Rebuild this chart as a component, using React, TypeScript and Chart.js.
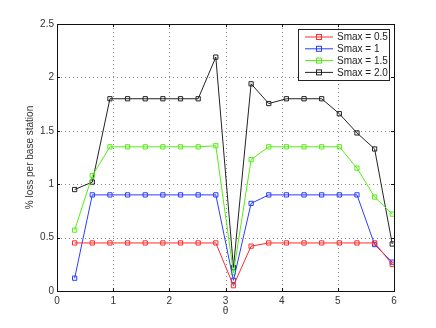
import React, { useEffect, useRef } from "react";
import { Chart, registerables } from "chart.js";

Chart.register(...registerables);

const thetaSteps = [1, 2, 3, 4, 5, 6, 7, 8, 9, 10, 11, 12, 13, 14, 15, 16, 17, 18, 19];
const thetaValues = thetaSteps.map((k) => (k * Math.PI) / 10);

const seriesLabels = ["Smax = 0.5", "Smax = 1", "Smax = 1.5", "Smax = 2.0"];
const seriesColors = ["#ff2a2a", "#2a3dff", "#55ee11", "#222222"];

const smax05 = [0.45, 0.45, 0.45, 0.45, 0.45, 0.45, 0.45, 0.45, 0.45, 0.05, 0.42, 0.45, 0.45, 0.45, 0.45, 0.45, 0.45, 0.45, 0.25];
const smax1 = [0.12, 0.9, 0.9, 0.9, 0.9, 0.9, 0.9, 0.9, 0.9, 0.1, 0.82, 0.9, 0.9, 0.9, 0.9, 0.9, 0.9, 0.435, 0.27];
const smax15 = [0.57, 1.08, 1.35, 1.35, 1.35, 1.35, 1.35, 1.35, 1.36, 0.17, 1.23, 1.35, 1.35, 1.35, 1.35, 1.35, 1.15, 0.88, 0.72];
const smax2 = [0.95, 1.02, 1.8, 1.8, 1.8, 1.8, 1.8, 1.8, 2.19, 0.22, 1.94, 1.755, 1.8, 1.8, 1.8, 1.66, 1.48, 1.33, 0.44];

const xTicks = [0, 1, 2, 3, 4, 5, 6];
const yTicks = [0, 0.5, 1, 1.5, 2, 2.5];
const xTitle = "θ";
const yTitle = "% loss per base station";

const FONT = "'Liberation Sans', Arial, Helvetica, sans-serif";

const gridPlugin = {
  id: "dottedGrid",
  beforeDatasetsDraw(chart: any) {
    const { ctx, chartArea } = chart;
    const { left, right, top, bottom } = chartArea;
    const xs = chart.scales.x;
    const ys = chart.scales.y;
    ctx.save();
    ctx.strokeStyle = "#8a8a8a";
    ctx.lineWidth = 1;
    ctx.setLineDash([1, 3]);
    ctx.beginPath();
    xTicks.slice(1, -1).forEach((v) => {
      const px = Math.round(xs.getPixelForValue(v)) + 0.5;
      ctx.moveTo(px, top);
      ctx.lineTo(px, bottom);
    });
    yTicks.slice(1, -1).forEach((v) => {
      const py = Math.round(ys.getPixelForValue(v)) + 0.5;
      ctx.moveTo(left, py);
      ctx.lineTo(right, py);
    });
    ctx.stroke();
    ctx.restore();
  },
};

const boxPlugin = {
  id: "matlabBox",
  afterDraw(chart: any) {
    const { ctx, chartArea } = chart;
    const { left, right, top, bottom } = chartArea;
    ctx.save();
    ctx.strokeStyle = "#111";
    ctx.lineWidth = 1;
    ctx.strokeRect(Math.round(left) + 0.5, Math.round(top) + 0.5, Math.round(right - left), Math.round(bottom - top));
    const xs = chart.scales.x;
    const ys = chart.scales.y;
    ctx.beginPath();
    xTicks.forEach((v) => {
      const px = Math.round(xs.getPixelForValue(v)) + 0.5;
      ctx.moveTo(px, bottom);
      ctx.lineTo(px, bottom - 3);
      ctx.moveTo(px, top);
      ctx.lineTo(px, top + 3);
    });
    yTicks.forEach((v) => {
      const py = Math.round(ys.getPixelForValue(v)) + 0.5;
      ctx.moveTo(left, py);
      ctx.lineTo(left + 3, py);
      ctx.moveTo(right, py);
      ctx.lineTo(right - 3, py);
    });
    ctx.stroke();

    // axis titles
    ctx.fillStyle = "#333";
    ctx.font = `10px ${FONT}`;
    ctx.textAlign = "center";
    ctx.textBaseline = "middle";
    ctx.fillText(xTitle, (left + right) / 2, 311);
    ctx.save();
    ctx.translate(30, (top + bottom) / 2);
    ctx.rotate(-Math.PI / 2);
    ctx.fillText(yTitle, 0, 0);
    ctx.restore();

    // legend
    const bx = 298.5, by = 29.5, bw = 91, bh = 51;
    ctx.fillStyle = "#fff";
    ctx.fillRect(bx, by, bw, bh);
    ctx.strokeStyle = "#222";
    ctx.strokeRect(bx, by, bw, bh);
    ctx.font = `10px ${FONT}`;
    ctx.textBaseline = "middle";
    ctx.textAlign = "left";
    seriesLabels.forEach((lab, i) => {
      const cy = 37 + i * 11.8;
      ctx.strokeStyle = seriesColors[i];
      ctx.lineWidth = 1;
      ctx.beginPath();
      ctx.moveTo(305, cy);
      ctx.lineTo(333, cy);
      ctx.stroke();
      ctx.strokeRect(316.5, cy - 2.5, 5, 5);
      ctx.fillStyle = "#222";
      ctx.fillText(lab, 337, cy + 0.5);
    });
    ctx.restore();
  },
};

export default function App() {
  const ref = useRef<HTMLCanvasElement | null>(null);
  useEffect(() => {
    document.body.style.margin = "0";
    const all = [smax05, smax1, smax15, smax2];
    const chart = new Chart(ref.current as HTMLCanvasElement, {
      type: "line",
      data: {
        datasets: all.map((vals, i) => ({
          label: seriesLabels[i],
          data: thetaValues.map((x, j) => ({ x, y: vals[j] })),
          borderColor: seriesColors[i],
          backgroundColor: "rgba(0,0,0,0)",
          borderWidth: 1,
          pointStyle: "rect",
          pointRadius: 3,
          pointBorderWidth: 1,
          pointBackgroundColor: "rgba(0,0,0,0)",
          pointBorderColor: seriesColors[i],
          tension: 0,
        })),
      },
      options: {
        animation: false,
        responsive: false,
        layout: { padding: { left: 0, right: 42, top: 24, bottom: 0 } },
        plugins: { legend: { display: false }, tooltip: { enabled: false } },
        scales: {
          x: {
            type: "linear",
            min: 0,
            max: 6,
            afterBuildTicks: (s: any) => {
              s.ticks = xTicks.map((v) => ({ value: v }));
            },
            afterFit: (s: any) => {
              s.height = 37;
            },
            grid: { display: false, drawTicks: false },
            border: { display: false },
            ticks: {
              color: "#333",
              font: { family: FONT, size: 10 },
              padding: 4,
              maxRotation: 0,
              callback: (v: any) => String(v),
            },
          },
          y: {
            type: "linear",
            min: 0,
            max: 2.5,
            afterBuildTicks: (s: any) => {
              s.ticks = yTicks.map((v) => ({ value: v }));
            },
            afterFit: (s: any) => {
              s.width = 57;
            },
            grid: { display: false, drawTicks: false },
            border: { display: false },
            ticks: {
              color: "#333",
              font: { family: FONT, size: 10 },
              padding: 3,
              callback: (v: any) => String(v),
            },
          },
        },
      },
      plugins: [gridPlugin, boxPlugin],
    });
    return () => chart.destroy();
  }, []);
  return (
    <div style={{ position: "absolute", left: 0, top: 0, width: 436, height: 328, background: "#fff" }}>
      <canvas ref={ref} width={436} height={328} style={{ width: 436, height: 328 }} />
    </div>
  );
}
